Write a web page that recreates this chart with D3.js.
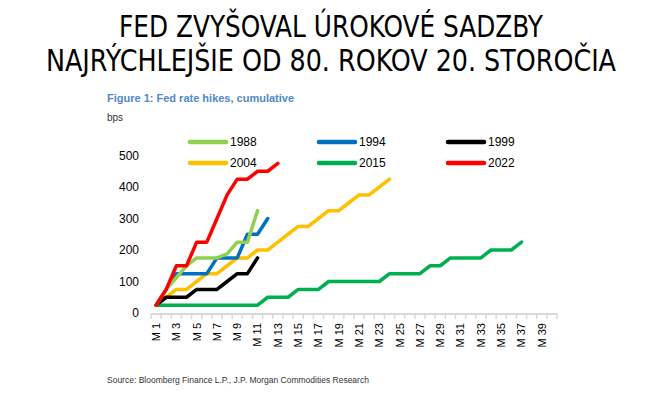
<!DOCTYPE html>
<html>
<head>
<meta charset="utf-8">
<script src="https://cdn.jsdelivr.net/npm/d3@7"></script>
<style>
  body { margin: 0; background: #fff; }
  svg { display: block; }
</style>
</head>
<body>
<svg id="chart" width="661" height="395"></svg>
<script>
// ----------
var months = d3.range(1, 41).map(function(i) { return 'M ' + i; });
var yTicks = [0, 100, 200, 300, 400, 500];

var years = ['1988', '1994', '1999', '2004', '2015', '2022'];
var colors = ['#92D050', '#0070C0', '#000000', '#FFC000', '#00B050', '#FF0000'];

var s1988 = [25, 75, 112.5, 150, 175, 175, 175, 187.5, 225, 225, 325];
var s1994 = [25, 75, 125, 125, 125, 125, 175, 175, 175, 250, 250, 300];
var s1999 = [25, 50, 50, 50, 75, 75, 75, 100, 125, 125, 175];
var s2004 = [25, 50, 75, 75, 100, 125, 125, 150, 175, 175, 200, 200, 225, 250, 275, 275, 300, 325, 325, 350, 375, 375, 400, 425];
var s2015 = [25, 25, 25, 25, 25, 25, 25, 25, 25, 25, 25, 50, 50, 50, 75, 75, 75, 100, 100, 100, 100, 100, 100, 125, 125, 125, 125, 150, 150, 175, 175, 175, 175, 200, 200, 200, 225];
var s2022 = [25, 75, 150, 150, 225, 225, 300, 375, 425, 425, 450, 450, 475];

var series = [s1988, s1994, s1999, s2004, s2015, s2022];

// drawing order: 2015 first, 2022 on top
var drawOrder = [4, 3, 2, 1, 0, 5];

// ----------
var svg = d3.select('#chart');

var x = d3.scalePoint().domain(months).range([151, 557]).padding(0.5);
var y = d3.scaleLinear().domain([0, 500]).range([313, 155.5]);
var step = x.step();

// title
var titleLines = ['FED ZVYŠOVAL ÚROKOVÉ SADZBY', 'NAJRÝCHLEJŠIE OD 80. ROKOV 20. STOROČIA'];
var titleWidths = [424, 570];
svg.selectAll('text.title')
  .data(titleLines)
  .enter().append('text')
  .attr('class', 'title')
  .attr('x', 331)
  .attr('y', function(d, i) { return 37 + i * 34; })
  .attr('text-anchor', 'middle')
  .attr('textLength', function(d, i) { return titleWidths[i]; })
  .attr('lengthAdjust', 'spacingAndGlyphs')
  .style('font-family', "'Liberation Sans Narrow', 'DejaVu Sans Condensed', 'Noto Sans', sans-serif")
  .style('font-size', '30px')
  .style('fill', '#000')
  .text(function(d) { return d; });

// subtitle + unit
svg.append('text')
  .attr('x', 107).attr('y', 102)
  .style('font-family', "'Liberation Sans', Arial, sans-serif")
  .style('font-size', '11px')
  .style('font-weight', 'bold')
  .style('fill', '#4F8AC9')
  .text('Figure 1: Fed rate hikes, cumulative');

svg.append('text')
  .attr('x', 107).attr('y', 121)
  .style('font-family', "'Liberation Sans', Arial, sans-serif")
  .style('font-size', '10px')
  .style('fill', '#333')
  .text('bps');

// y labels
svg.selectAll('text.ytick')
  .data(yTicks)
  .enter().append('text')
  .attr('class', 'ytick')
  .attr('x', 139)
  .attr('y', function(d) { return y(d); })
  .attr('dy', '0.35em')
  .attr('text-anchor', 'end')
  .style('font-family', "'Liberation Sans', Arial, sans-serif")
  .style('font-size', '12px')
  .style('fill', '#000')
  .text(function(d) { return d; });

// x axis line and ticks
var axisG = svg.append('g');
axisG.append('line')
  .attr('x1', x(months[0]) - step / 2)
  .attr('x2', x(months[months.length - 1]) + step / 2)
  .attr('y1', y(0) + 1).attr('y2', y(0) + 1)
  .style('stroke', '#D9D9D9')
  .style('stroke-width', 2);

var bounds = months.concat(['end']).map(function(d, i) {
  return x(months[0]) - step / 2 + i * step;
});
axisG.selectAll('line.tick')
  .data(bounds)
  .enter().append('line')
  .attr('class', 'tick')
  .attr('x1', function(d) { return d; })
  .attr('x2', function(d) { return d; })
  .attr('y1', y(0) + 1)
  .attr('y2', y(0) + 6)
  .style('stroke', '#D9D9D9')
  .style('stroke-width', 1.5);

axisG.selectAll('text.xlabel')
  .data(months.filter(function(d, i) { return i % 2 === 0; }))
  .enter().append('text')
  .attr('class', 'xlabel')
  .attr('transform', function(d) { return 'translate(' + x(d) + ',' + (y(0) + 10) + ') rotate(-90)'; })
  .attr('dy', '0.35em')
  .attr('text-anchor', 'end')
  .style('font-family', "'Liberation Sans', Arial, sans-serif")
  .style('font-size', '11px')
  .style('fill', '#000')
  .text(function(d) { return d; });

// lines
var line = d3.line()
  .x(function(d, i) { return x(months[i]); })
  .y(function(d) { return y(d); });

svg.selectAll('path.series')
  .data(drawOrder)
  .enter().append('path')
  .attr('class', 'series')
  .attr('d', function(k) { return line(series[k]); })
  .style('fill', 'none')
  .style('stroke', function(k) { return colors[k]; })
  .style('stroke-width', 3.5)
  .style('stroke-linejoin', 'round')
  .style('stroke-linecap', 'round');

// legend
var legX = [190, 319, 448];
var legY = [142, 163];
var leg = svg.selectAll('g.legend')
  .data(years)
  .enter().append('g')
  .attr('class', 'legend')
  .attr('transform', function(d, i) { return 'translate(' + legX[i % 3] + ',' + legY[Math.floor(i / 3)] + ')'; });

leg.append('line')
  .attr('x1', 0).attr('x2', 36)
  .attr('y1', 0).attr('y2', 0)
  .style('stroke', function(d, i) { return colors[i]; })
  .style('stroke-width', 4.5)
  .style('stroke-linecap', 'round');

leg.append('text')
  .attr('x', 40)
  .attr('dy', '0.35em')
  .style('font-family', "'Liberation Sans', Arial, sans-serif")
  .style('font-size', '12px')
  .style('fill', '#000')
  .text(function(d) { return d; });

// source
svg.append('text')
  .attr('x', 107).attr('y', 383)
  .style('font-family', "'Liberation Sans', Arial, sans-serif")
  .style('font-size', '8.5px')
  .style('fill', '#333')
  .text('Source: Bloomberg Finance L.P., J.P. Morgan Commodities Research');
</script>
</body>
</html>
